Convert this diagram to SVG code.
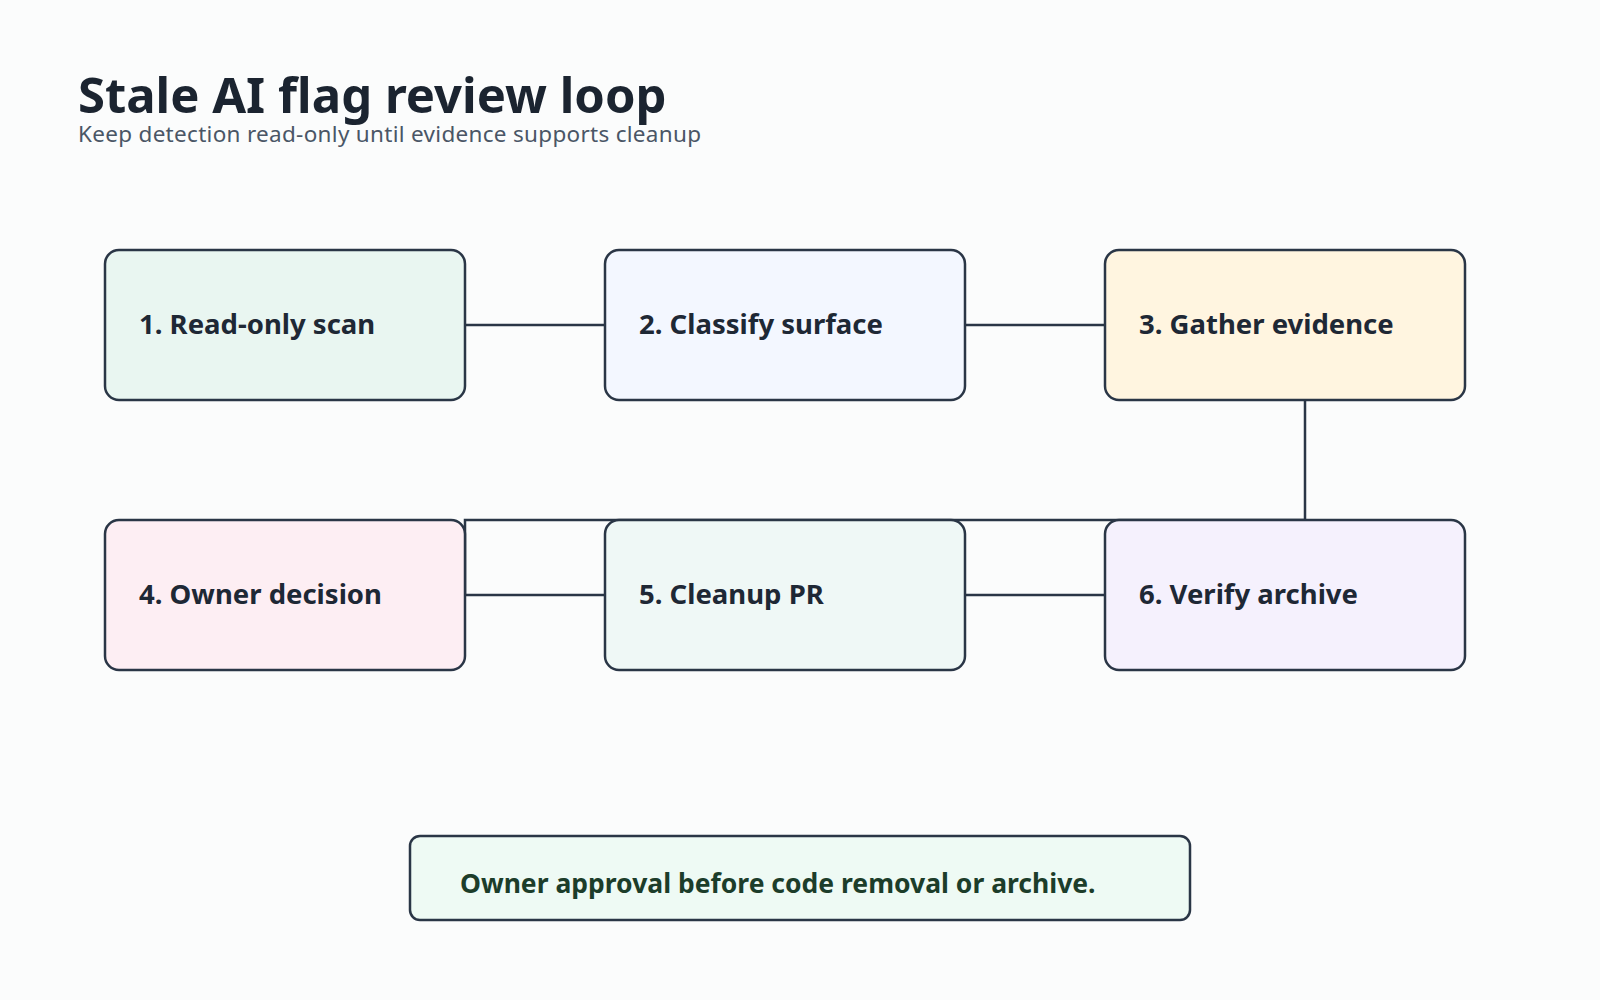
<svg xmlns="http://www.w3.org/2000/svg" width="1600" height="1000" viewBox="0 0 1600 1000">
<style>
.n{stroke:#2a3646;stroke-width:2.5}
.t{font-family:"Noto Sans","Liberation Sans",sans-serif;font-weight:bold;font-size:27.5px;fill:#1e2835}
.c{fill:none;stroke:#2a3646;stroke-width:2.5}
</style>
<rect width="1600" height="1000" fill="#fbfcfc"/>
<text x="78" y="113" font-family="Noto Sans, Liberation Sans, sans-serif" font-weight="bold" font-size="49" fill="#1b2430">Stale AI flag review loop</text>
<text x="78" y="142" font-family="Noto Sans, Liberation Sans, sans-serif" font-size="22.5" letter-spacing="0.3" fill="#4a5666">Keep detection read-only until evidence supports cleanup</text>
<g id="connectors">
<path class="c" d="M465 325H605M965 325H1105M1305 400V520H465V595M465 595H605M965 595H1105"/>
</g>
<g id="n1"><rect class="n" x="105" y="250" width="360" height="150" rx="14" fill="#e9f6f1"/><text class="t" x="139" y="334">1. Read-only scan</text></g>
<g id="n2"><rect class="n" x="605" y="250" width="360" height="150" rx="14" fill="#f3f7ff"/><text class="t" x="639" y="334">2. Classify surface</text></g>
<g id="n3"><rect class="n" x="1105" y="250" width="360" height="150" rx="14" fill="#fff5e0"/><text class="t" x="1139" y="334">3. Gather evidence</text></g>
<g id="n4"><rect class="n" x="105" y="520" width="360" height="150" rx="14" fill="#fdeef3"/><text class="t" x="139" y="604">4. Owner decision</text></g>
<g id="n5"><rect class="n" x="605" y="520" width="360" height="150" rx="14" fill="#eff8f6"/><text class="t" x="639" y="604">5. Cleanup PR</text></g>
<g id="n6"><rect class="n" x="1105" y="520" width="360" height="150" rx="14" fill="#f5f1fd"/><text class="t" x="1139" y="604">6. Verify archive</text></g>
<g id="note"><rect class="n" x="410" y="836" width="780" height="84" rx="10" fill="#eefaf4"/><text class="t" x="460" y="893" style="fill:#1c3d2a;font-size:26.5px">Owner approval before code removal or archive.</text></g>
</svg>
